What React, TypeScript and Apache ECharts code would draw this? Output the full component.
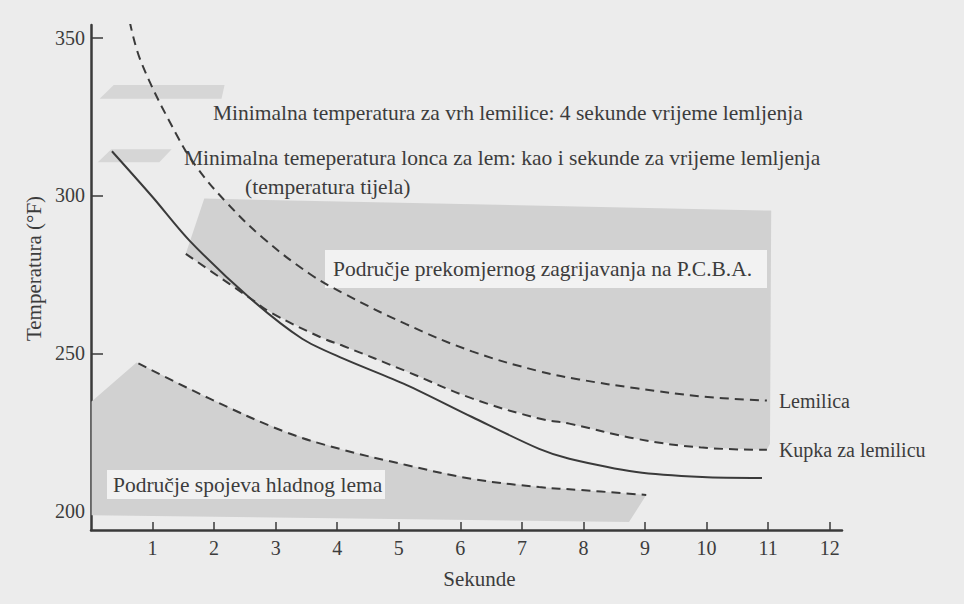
import React, { useEffect, useRef } from "react";
import * as echarts from "echarts";

const xTicks = [1, 2, 3, 4, 5, 6, 7, 8, 9, 10, 11, 12];
const yTicks = [200, 250, 300, 350];

// Curves: [seconds, °F]
const lemilica: [number, number][] = [
  [0.63, 355], [0.82, 342.0], [1.41, 318.5], [1.73, 308.6], [2.2, 297.8], [2.79, 286.6],
  [3.55, 275.2], [4.1, 269.0], [5.12, 259.2], [6.19, 250.6], [7.28, 244.3],
  [7.93, 241.7], [8.86, 238.9], [9.93, 236.3], [10.98, 235.0],
];
const kupka: [number, number][] = [
  [1.54, 281.5], [2.58, 267.5], [2.94, 262.7], [3.76, 254.8], [4.1, 252.3],
  [5.12, 244.3], [6.19, 235.7], [7.28, 229.3], [7.77, 227.7], [8.86, 222.9],
  [9.93, 220.1], [10.98, 219.4],
];
const lonac: [number, number][] = [
  [0.34, 314.0], [1.0, 299.5], [1.6, 285.7], [2.58, 267.5], [3.43, 254.6],
  [4.1, 248.3], [5.12, 240.0], [6.19, 229.8], [7.28, 219.7], [7.77, 216.6],
  [8.86, 212.4], [9.93, 210.8], [10.9, 210.5],
];
const hladni: [number, number][] = [
  [0.77, 246.8], [1.92, 235.7], [3.14, 225.2], [4.04, 219.7], [5.12, 214.6],
  [6.19, 210.2], [7.28, 207.6], [7.93, 206.7], [9.02, 205.1],
];

// Shaded regions
const vrhBand: [number, number][] = [[0.14, 330.6], [0.37, 335.0], [2.17, 335.0], [2.12, 330.6]];
const lonacBand: [number, number][] = [[0.11, 310.5], [0.33, 314.6], [1.31, 314.6], [1.11, 310.5]];
const overheatTop: [number, number][] = [[1.84, 299.0], [11.05, 295.2], [11.03, 221.3]];
const coldEdge: [number, number][] = [[0.01, 234.7], [0.74, 247.1]];
const coldBottom: [number, number][] = [[8.74, 196.5], [0.01, 198.7]];

const FONT = "'Liberation Serif', 'DejaVu Serif', serif";
const INK = "#3a3a3a";
const TXT = "#3c3c3c";

export default function App() {
  const ref = useRef<HTMLDivElement>(null);
  useEffect(() => {
    if (!ref.current) return;
    const chart = echarts.init(ref.current, undefined, { renderer: "svg" });

    const regions = [
      { pts: vrhBand, fill: "#d6d6d6" },
      { pts: lonacBand, fill: "#d6d6d6" },
      { pts: [...overheatTop, ...kupka.slice().reverse()], fill: "#d1d1d1" },
      { pts: [...coldEdge, ...hladni, ...coldBottom], fill: "#d1d1d1" },
    ];

    const lineStyle = (dashed: boolean) => ({
      color: INK,
      width: 2,
      type: dashed ? ([9, 6] as any) : "solid",
    });

    const endLabel = {
      show: true,
      formatter: "{a}",
      distance: 12,
      fontFamily: FONT,
      fontSize: 20,
      color: TXT,
    };

    const box = (x: number, y: number, w: number, h: number) => ({
      type: "rect",
      shape: { x, y, width: w, height: h },
      style: { fill: "#f2f2f2" },
      z: 5,
    });
    const txt = (x: number, y: number, text: string) => ({
      type: "text",
      x,
      y,
      style: { text, fill: TXT, font: `21.5px ${FONT}`, verticalAlign: "middle", align: "left" },
      z: 6,
    });

    chart.setOption({
      animation: false,
      backgroundColor: "#ececec",
      textStyle: { fontFamily: FONT },
      grid: { left: 91, right: 122, top: 25, bottom: 74, containLabel: false },
      xAxis: {
        type: "value",
        min: 0,
        max: 12.2,
        name: "Sekunde",
        nameLocation: "middle",
        nameGap: 38,
        nameTextStyle: { fontFamily: FONT, fontSize: 21, color: TXT, padding: [0, 0, 0, 26] },
        axisLine: { show: true, lineStyle: { color: INK, width: 2.5 } },
        axisTick: { show: true, inside: true, length: 8, customValues: xTicks, lineStyle: { color: INK, width: 1.5 } },
        axisLabel: { customValues: xTicks, margin: 8, fontFamily: FONT, fontSize: 20, color: TXT },
        splitLine: { show: false },
      },
      yAxis: {
        type: "value",
        min: 194,
        max: 354,
        name: "Temperatura (°F)",
        nameLocation: "middle",
        nameGap: 43,
        nameRotate: 90,
        nameTextStyle: { fontFamily: FONT, fontSize: 21, color: TXT, padding: [0, 0, 0, 18] },
        axisLine: { show: true, lineStyle: { color: INK, width: 2.5 } },
        axisTick: { show: true, inside: true, length: 12, customValues: yTicks, lineStyle: { color: INK, width: 1.5 } },
        axisLabel: { customValues: yTicks, margin: 6, fontFamily: FONT, fontSize: 20, color: TXT },
        splitLine: { show: false },
      },
      series: [
        {
          type: "custom",
          name: "regions",
          coordinateSystem: "cartesian2d",
          silent: true,
          z: 1,
          data: regions.map((r) => r.pts[0]),
          renderItem: (params: any, api: any) => {
            const r = regions[params.dataIndex];
            return {
              type: "polygon",
              shape: { points: r.pts.map((p) => api.coord(p)) },
              style: { fill: r.fill },
            };
          },
        },
        {
          type: "line",
          name: "Lemilica",
          data: lemilica,
          smooth: 0.4,
          showSymbol: false,
          lineStyle: lineStyle(true),
          endLabel,
          z: 10,
        },
        {
          type: "line",
          name: "Kupka za lemilicu",
          data: kupka,
          smooth: 0.4,
          showSymbol: false,
          lineStyle: lineStyle(true),
          endLabel,
          z: 10,
        },
        {
          type: "line",
          name: "Lonac",
          data: lonac,
          smooth: 0.3,
          showSymbol: false,
          lineStyle: lineStyle(false),
          z: 10,
        },
        {
          type: "line",
          name: "Hladni lem",
          data: hladni,
          smooth: 0.4,
          showSymbol: false,
          lineStyle: lineStyle(true),
          z: 10,
        },
      ],
      graphic: [
        txt(213, 113, "Minimalna temperatura za vrh lemilice: 4 sekunde vrijeme lemljenja"),
        txt(184, 158, "Minimalna temeperatura lonca za lem: kao i sekunde za vrijeme lemljenja"),
        txt(245, 187, "(temperatura tijela)"),
        box(325, 250, 442, 38),
        txt(333, 269, "Područje prekomjernog zagrijavanja na P.C.B.A."),
        box(107, 470, 278, 29),
        txt(113, 485, "Područje spojeva hladnog lema"),
      ],
    });
    return () => chart.dispose();
  }, []);
  return (
    <div
      ref={ref}
      style={{ position: "fixed", left: 0, top: 0, width: 964, height: 604, background: "#ececec" }}
    />
  );
}
